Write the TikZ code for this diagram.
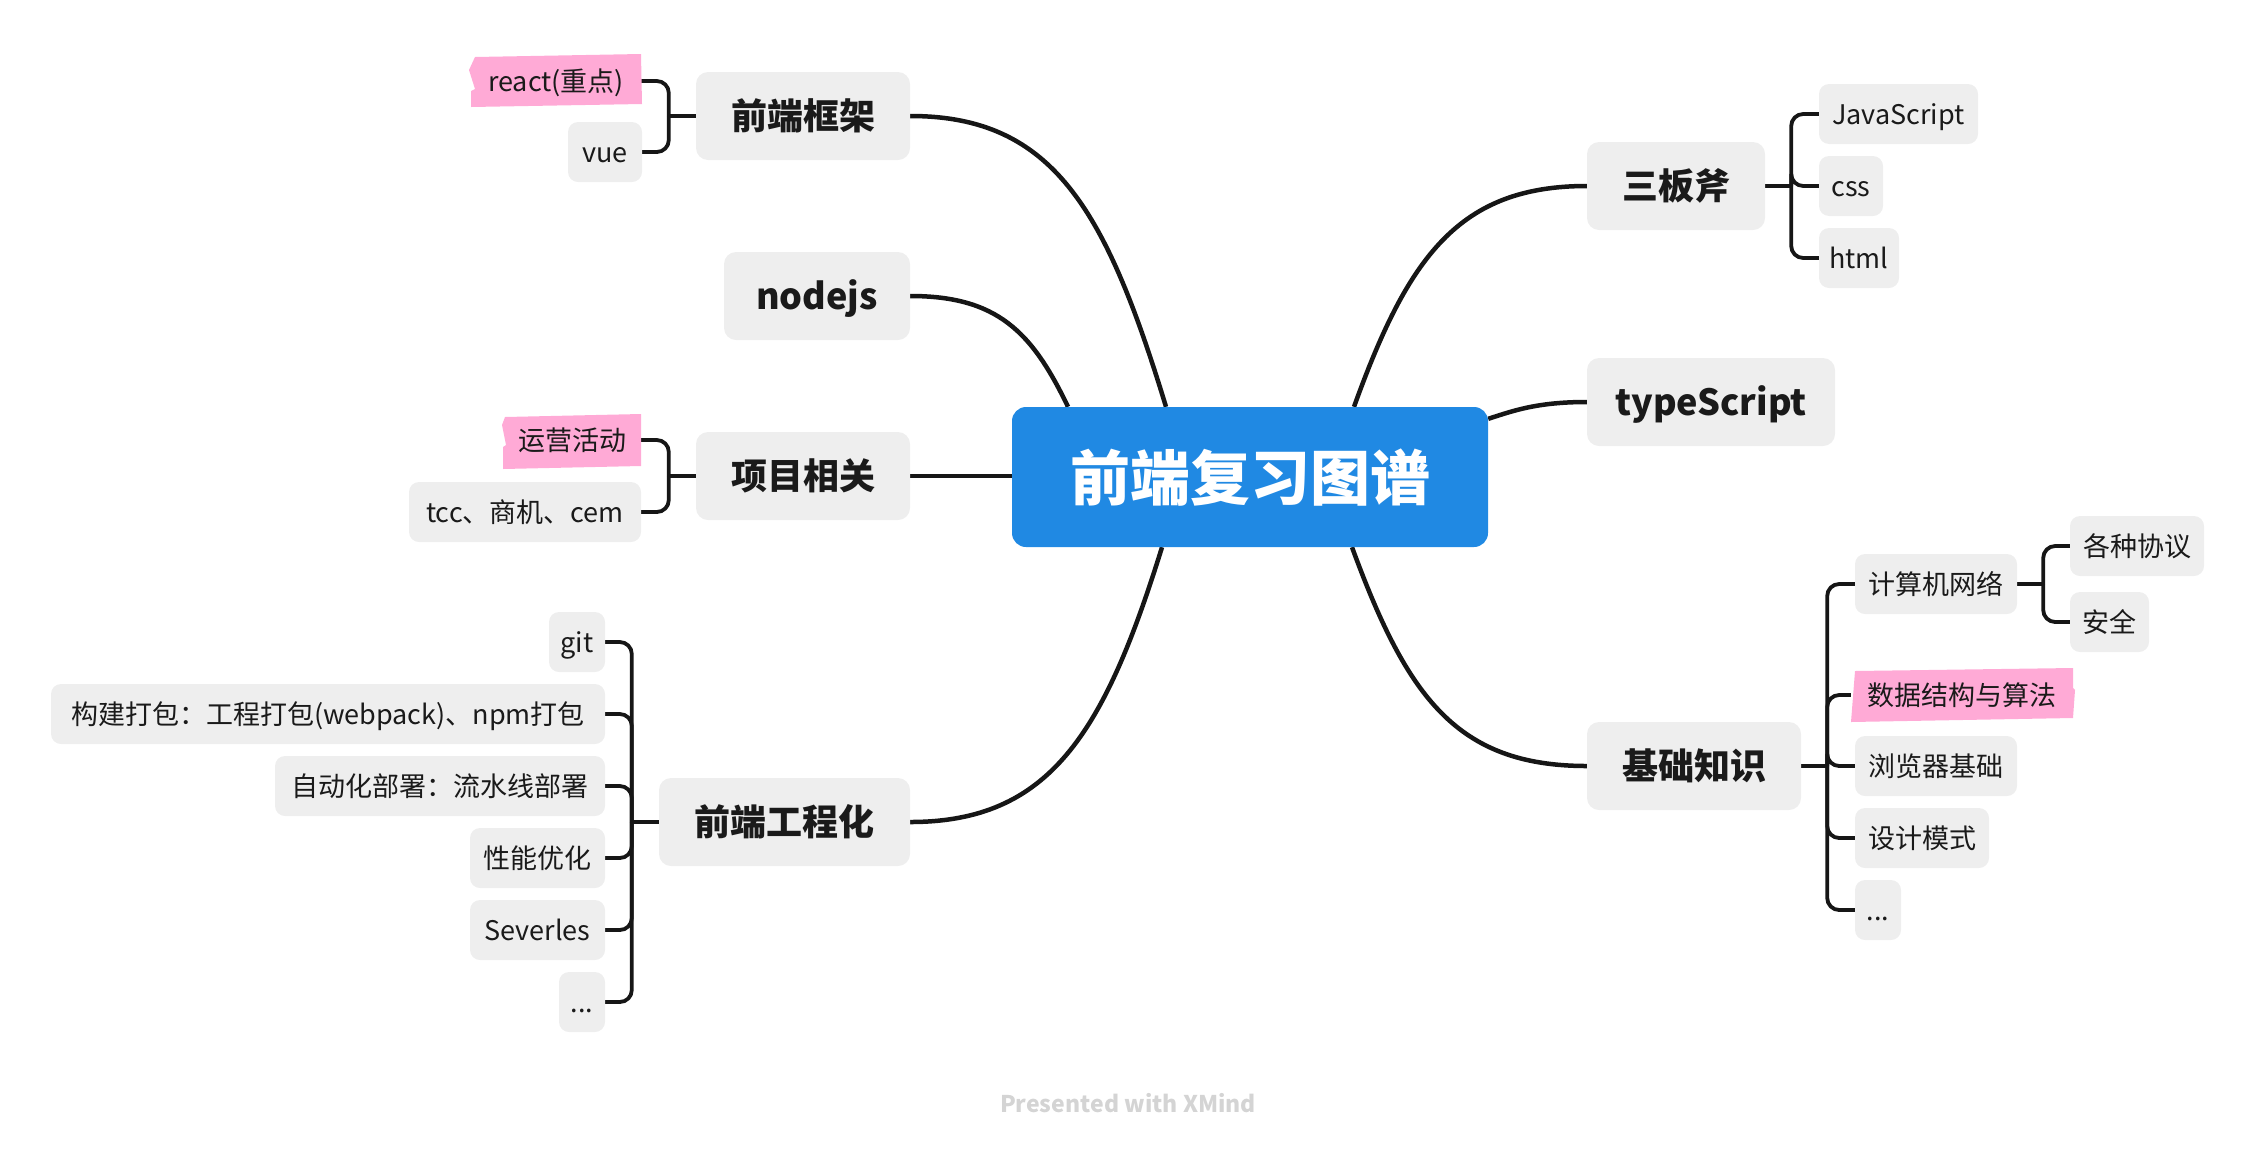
\documentclass[tikz,border=0pt]{standalone}
\usepackage{fontspec}
\setmainfont{Noto Sans CJK SC}
\usetikzlibrary{backgrounds}
\definecolor{boxgray}{HTML}{EEEEEE}
\definecolor{lineblack}{HTML}{161616}
\definecolor{rootblue}{HTML}{2089E3}
\definecolor{hlpink}{HTML}{FFAAD6}
\definecolor{txtdark}{HTML}{1A1A1A}
\definecolor{footgray}{HTML}{D4D4D4}
\begin{document}
\begin{tikzpicture}[x=1pt,y=-1pt,
  rootbox/.style={fill=rootblue, rounded corners=14pt, minimum height=140pt, minimum width=476pt,
    text=white, font=\fontsize{60}{70}\selectfont\bfseries, inner sep=0pt, text height=52pt, text depth=6pt},
  topicbox/.style={fill=boxgray, rounded corners=12pt, minimum height=88pt, text=txtdark,
    font=\fontsize{36}{42}\selectfont\bfseries, inner sep=0pt, text height=32pt, text depth=5pt},
  subbox/.style={fill=boxgray, rounded corners=10pt, minimum height=60pt, text=txtdark,
    font=\fontsize{27}{32}\selectfont, inner sep=0pt, text height=23pt, text depth=3pt},
  hltext/.style={subbox, fill=none},
  branch/.style={draw=lineblack, line width=4.5pt},
  bracket/.style={draw=lineblack, line width=3.8pt, rounded corners=12pt},
]
\useasboundingbox (0,0) rectangle (2256,1152);

% pink highlights
\fill[hlpink] (475,57) -- (641,54) -- (642,104) -- (471,107) -- (471,91) -- (475,89) -- (469,70) -- cycle;
\fill[hlpink] (505,417) -- (641,414) -- (641,466) -- (503,469) -- (503,447) -- (506,445) -- (502,425) -- cycle;
\fill[hlpink] (1855,671) -- (2073,668) -- (2073,688) -- (2075,690) -- (2073,718) -- (1851,722) -- cycle;

% root
\node[rootbox] (root) at (1250,477) {前端复习图谱};

% topics
\node[topicbox, minimum width=214pt] (kj) at (803,116) {前端框架};
\node[topicbox, minimum width=186pt] (nodejs) at (817,296) {nodejs};
\node[topicbox, minimum width=214pt] (xm) at (803,476) {项目相关};
\node[topicbox, minimum width=251pt] (gc) at (784.5,822) {前端工程化};
\node[topicbox, minimum width=178pt] (sbf) at (1676,186) {三板斧};
\node[topicbox, minimum width=248pt] (ts) at (1711,402) {typeScript};
\node[topicbox, minimum width=214pt] (jc) at (1694,766) {基础知识};

% subtopics left
\node[hltext, minimum width=170pt] (react) at (556,81) {react(重点)};
\node[subbox, minimum width=74pt] (vue) at (605,152) {vue};
\node[hltext, minimum width=137pt] (yy) at (572.5,440) {运营活动};
\node[subbox, minimum width=232pt] (tcc) at (525,512) {tcc、商机、cem};
\node[subbox, minimum width=56pt] (git) at (577,642) {git};
\node[subbox, minimum width=554pt] (gj) at (328,714) {构建打包：工程打包(webpack)、npm打包};
\node[subbox, minimum width=330pt] (zd) at (440,786) {自动化部署：流水线部署};
\node[subbox, minimum width=135pt] (xn) at (537.5,858) {性能优化};
\node[subbox, minimum width=135pt] (sv) at (537.5,930) {Severles};
\node[subbox, minimum width=46pt] (dotsa) at (582,1002) {...};

% subtopics right
\node[subbox, minimum width=159pt] (js) at (1898.5,114) {JavaScript};
\node[subbox, minimum width=64pt] (css) at (1851,186) {css};
\node[subbox, minimum width=80pt] (html) at (1859,258) {html};
\node[subbox, minimum width=162pt] (jsj) at (1936,584) {计算机网络};
\node[subbox, minimum width=134pt] (gz) at (2137,546) {各种协议};
\node[subbox, minimum width=79pt] (aq) at (2109.5,622) {安全};
\node[hltext, minimum width=222pt] (sj) at (1962,695) {数据结构与算法};
\node[subbox, minimum width=162pt] (llq) at (1936,766) {浏览器基础};
\node[subbox, minimum width=134pt] (sjms) at (1922,838) {设计模式};
\node[subbox, minimum width=46pt] (dotsb) at (1878,910) {...};

% footer
\node[font=\fontsize{23}{28}\selectfont\bfseries, text=footgray] (foot) at (1128,1103) {Presented with XMind};

% junction points
\coordinate (kjb) at ([xshift=-27pt]kj.west);
\coordinate (xmb) at ([xshift=-27pt]xm.west);
\coordinate (gcb) at ([xshift=-27pt]gc.west);
\coordinate (sbfb) at ([xshift=26pt]sbf.east);
\coordinate (jcb) at ([xshift=26pt]jc.east);
\coordinate (jsjb) at ([xshift=26pt]jsj.east);

\begin{scope}[on background layer]
  % main branches
  \draw[branch] (kj.east) .. controls +(143,0) and +(-60,-197) .. ([xshift=-84pt]root.north);
  \draw[branch] (nodejs.east) .. controls +(87,0) and +(-36,-75) .. ([xshift=-182pt]root.north);
  \draw[branch] (xm.east) -- (root.west |- xm.east);
  \draw[branch] (gc.east) .. controls +(139,0) and +(-58,187) .. ([xshift=-88pt]root.south);
  \draw[branch] (sbf.west) .. controls +(-128,0) and +(54,-150) .. ([xshift=104pt]root.north);
  \draw[branch] (ts.west) .. controls +(-50,0) and +(25,-8) .. ([yshift=-12pt]root.north east);
  \draw[branch] (jc.west) .. controls +(-130,0) and +(55,150) .. ([xshift=102pt]root.south);

  % brackets
  \draw[bracket] (kj.west) -- (kjb);
  \draw[bracket] (kjb) |- (react.east);
  \draw[bracket] (kjb) |- (vue.east);

  \draw[bracket] (xm.west) -- (xmb);
  \draw[bracket] (xmb) |- (yy.east);
  \draw[bracket] (xmb) |- (tcc.east);

  \draw[bracket] (gc.west) -- (gcb);
  \foreach \c in {git,gj,zd,xn,sv,dotsa} { \draw[bracket] (gcb) |- (\c.east); }

  \draw[bracket] (sbf.east) -- (sbfb);
  \foreach \c in {js,css,html} { \draw[bracket] (sbfb) |- (\c.west); }

  \draw[bracket] (jc.east) -- (jcb);
  \foreach \c in {jsj,sj,llq,sjms,dotsb} { \draw[bracket] (jcb) |- (\c.west); }

  \draw[bracket] (jsj.east) -- (jsjb);
  \foreach \c in {gz,aq} { \draw[bracket] (jsjb) |- (\c.west); }
\end{scope}
\end{tikzpicture}
\end{document}
